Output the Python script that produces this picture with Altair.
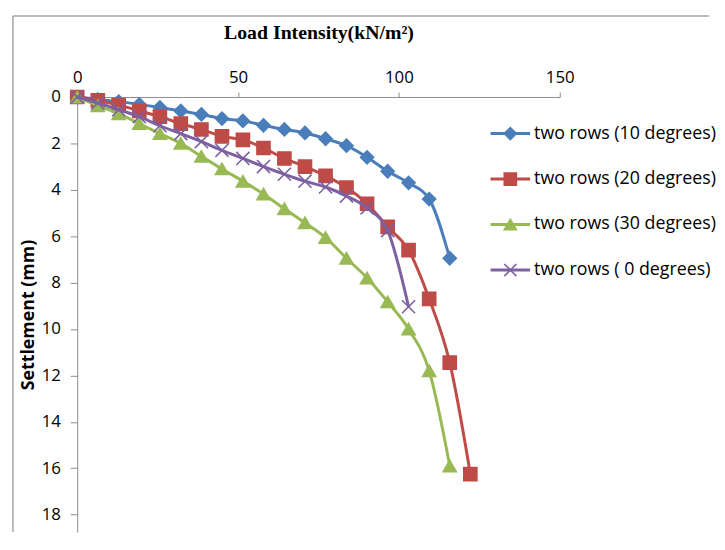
import altair as alt
import pandas as pd

# ---- data ----
load = [0, 6.4, 12.9, 19.3, 25.7, 32.2, 38.6, 45.0, 51.5, 57.9, 64.4,
        70.8, 77.2, 83.7, 90.1, 96.5, 103.0, 109.4, 115.8, 122.2]
s10 = [0, 0.1, 0.2, 0.32, 0.45, 0.6, 0.75, 0.93, 1.03, 1.22, 1.4, 1.55,
       1.8, 2.1, 2.6, 3.2, 3.7, 4.4, 6.95]
s20 = [0, 0.15, 0.35, 0.6, 0.85, 1.15, 1.4, 1.7, 1.85, 2.2, 2.65, 3.0,
       3.4, 3.9, 4.6, 5.6, 6.6, 8.7, 11.45, 16.25]
s30 = [0, 0.38, 0.72, 1.15, 1.58, 2.0, 2.56, 3.1, 3.63, 4.18, 4.82, 5.42,
       6.06, 6.95, 7.8, 8.83, 10.0, 11.8, 15.9]
s0 = [0, 0.26, 0.55, 0.85, 1.24, 1.58, 1.92, 2.3, 2.65, 3.0, 3.33, 3.63,
      3.88, 4.27, 4.78, 5.76, 9.04]

series_names = ["two rows (10 degrees)", "two rows (20 degrees)",
                "two rows (30 degrees)", "two rows ( 0 degrees)"]
x_ticks = [0, 50, 100, 150]
y_ticks = [0, 2, 4, 6, 8, 10, 12, 14, 16, 18]

# ---- styles ----
colors = ["#4A7EBB", "#BE4B48", "#98B954", "#7D60A0"]
marker_shapes = ["diamond", "square", "triangle-up", "M-1,-1L1,1M-1,1L1,-1"]

rows = []
for name, vals in zip(series_names, [s10, s20, s30, s0]):
    for xv, yv in zip(load, vals):
        rows.append({"series": name, "load": xv, "settlement": yv})
df = pd.DataFrame(rows)
legend_df = pd.DataFrame({"series": series_names})

axis_gray = "#8C8C8C"
color_scale = alt.Scale(domain=series_names, range=colors)
shape_scale = alt.Scale(domain=series_names, range=marker_shapes)

x_enc = alt.X(
    "load:Q",
    scale=alt.Scale(domain=[0, 150], nice=False),
    axis=alt.Axis(
        orient="top", values=x_ticks, title="Load Intensity(kN/m²)",
        titleFont="Liberation Serif", titleFontSize=20, titleFontWeight="bold",
        titleColor="black", titlePadding=26,
        labelFont="Open Sans", labelFontSize=17, labelColor="black",
        labelPadding=6, labelFlush=False, tickSize=5, grid=False,
        domainColor=axis_gray, tickColor=axis_gray,
    ),
)
y_enc = alt.Y(
    "settlement:Q",
    scale=alt.Scale(domain=[0, 18.75], reverse=True, nice=False),
    axis=alt.Axis(
        values=y_ticks, title="Settlement (mm)",
        titleFont="Open Sans", titleFontSize=18, titleFontWeight="bold",
        titleColor="black", titlePadding=4,
        labelFont="Open Sans", labelFontSize=17, labelColor="black",
        labelPadding=10, tickSize=7, grid=False,
        domainColor=axis_gray, tickColor=axis_gray,
    ),
)

base = alt.Chart(df).encode(x=x_enc, y=y_enc)

series_layers = []
for i, name in enumerate(series_names):
    sub = base.transform_filter(alt.datum.series == name)
    series_layers.append(
        sub.mark_line(interpolate="monotone", strokeWidth=3).encode(
            color=alt.Color("series:N", scale=color_scale, legend=None)
        )
    )
    series_layers.append(
        sub.mark_point(filled=True, size=175, opacity=1, strokeWidth=1.6).encode(
            fill=alt.Fill("series:N", scale=color_scale, legend=None),
            stroke=alt.Stroke("series:N", scale=color_scale, legend=None),
            shape=alt.Shape("series:N", scale=shape_scale, legend=None),
        )
    )
main = alt.layer(*series_layers)

# ---- legend drawn as its own layer (rows placed by a point scale) ----
leg_y = alt.Y("series:N",
              scale=alt.Scale(domain=series_names, range=[14, 198]),
              axis=None)
leg_base = alt.Chart(legend_df).encode(y=leg_y)
leg_line = leg_base.mark_rule(strokeWidth=3).encode(
    x=alt.value(418), x2=alt.value(458),
    color=alt.Color("series:N", scale=color_scale, legend=None),
)
leg_pt = leg_base.mark_point(filled=True, size=150, opacity=1, strokeWidth=1.6).encode(
    x=alt.value(438),
    fill=alt.Fill("series:N", scale=color_scale, legend=None),
    stroke=alt.Stroke("series:N", scale=color_scale, legend=None),
    shape=alt.Shape("series:N", scale=shape_scale, legend=None),
)
leg_txt = leg_base.mark_text(align="left", baseline="middle", font="Open Sans",
                             fontSize=18, color="black").encode(
    x=alt.value(462), text="series:N"
)
legend = alt.layer(leg_line, leg_pt, leg_txt)

frame_df = pd.DataFrame({"k": [0]})
frame_top = alt.Chart(frame_df).mark_rule(color="#A6A6A6", strokeWidth=1.5).encode(
    x=alt.value(-65), x2=alt.value(639), y=alt.value(-82)
)
frame_left = alt.Chart(frame_df).mark_rule(color="#A6A6A6", strokeWidth=1.5).encode(
    x=alt.value(-65), y=alt.value(-82), y2=alt.value(440)
)

chart = alt.layer(frame_top, frame_left, main, legend).resolve_scale(
    y="independent"
).properties(
    width=488, height=440, background="white",
    padding={"left": 4, "top": 4, "right": 0, "bottom": 0},
).configure_view(stroke=None)

chart.save("out.html", embed_options={"renderer": "svg", "actions": False})
